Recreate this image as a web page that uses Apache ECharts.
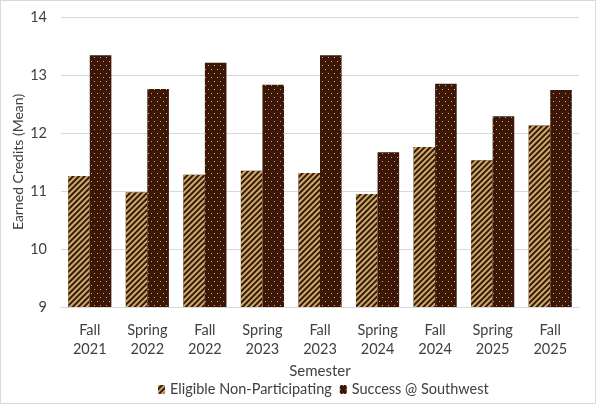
<!DOCTYPE html>
<html><head><meta charset="utf-8">
<script src="https://cdn.jsdelivr.net/npm/echarts@6/dist/echarts.min.js"></script>
<style>html,body{margin:0;padding:0;background:#fff}#c{width:596px;height:404px;box-sizing:border-box;border:1px solid #d9d9d9}</style>
</head><body><div id="c"></div>
<script>
var categories = ['Fall\n2021','Spring\n2022','Fall\n2022','Spring\n2023','Fall\n2023','Spring\n2024','Fall\n2024','Spring\n2025','Fall\n2025'];
var eligibleNonParticipating = [11.26, 10.98, 11.28, 11.35, 11.31, 10.95, 11.76, 11.53, 12.13];
var successSouthwest = [13.34, 12.76, 13.21, 12.83, 13.34, 11.67, 12.85, 12.29, 12.74];
var yTicks = [9, 10, 11, 12, 13, 14];

var brown = '#3c1708';
var tan = '#c8ad6c';
var font = 'Lato, "Open Sans", sans-serif';
var chart = echarts.init(document.getElementById('c'));
chart.setOption({
  animation: false,
  textStyle: {fontFamily: font},
  grid: {left: 60, right: 16, top: 16, bottom: 96, outerBoundsMode: 'none', containLabel: false},
  legend: {
    top: 381, left: 157, padding: 0, itemWidth: 7, itemHeight: 9, itemGap: 8,
    textStyle: {fontSize: 14.5, color: '#404040', fontFamily: font},
    data: ['Eligible Non-Participating', 'Success @ Southwest']
  },
  xAxis: {
    type: 'category', data: categories,
    name: 'Semester', nameLocation: 'middle', nameGap: 55,
    nameTextStyle: {fontSize: 15, color: '#404040'},
    axisTick: {show: false},
    axisLine: {lineStyle: {color: '#d9d9d9'}},
    axisLabel: {fontSize: 14.5, color: '#404040', margin: 14, lineHeight: 19}
  },
  yAxis: {
    type: 'value', min: yTicks[0], max: yTicks[yTicks.length-1], interval: 1,
    name: 'Earned Credits (Mean)', nameLocation: 'middle', nameGap: 36, nameMoveOverlap: false,
    nameTextStyle: {fontSize: 14, color: '#404040'},
    axisLabel: {fontSize: 14.5, color: '#404040', margin: 14},
    splitLine: {lineStyle: {color: '#d9d9d9'}}
  },
  series: [
    {
      name: 'Eligible Non-Participating', type: 'bar', data: eligibleNonParticipating,
      barGap: '0%', barCategoryGap: '25%',
      itemStyle: {
        color: brown,
        decal: {symbol: 'rect', color: tan, dashArrayX: [1, 0], dashArrayY: [2, 2], rotation: -Math.PI / 4, symbolSize: 1}
      }
    },
    {
      name: 'Success @ Southwest', type: 'bar', data: successSouthwest,
      itemStyle: {
        color: brown,
        decal: {symbol: 'rect', color: tan, dashArrayX: [[1, 5], [0, 3, 1, 2]], dashArrayY: [1, 3], symbolSize: 1, rotation: 0}
      }
    }
  ]
});
</script></body></html>
